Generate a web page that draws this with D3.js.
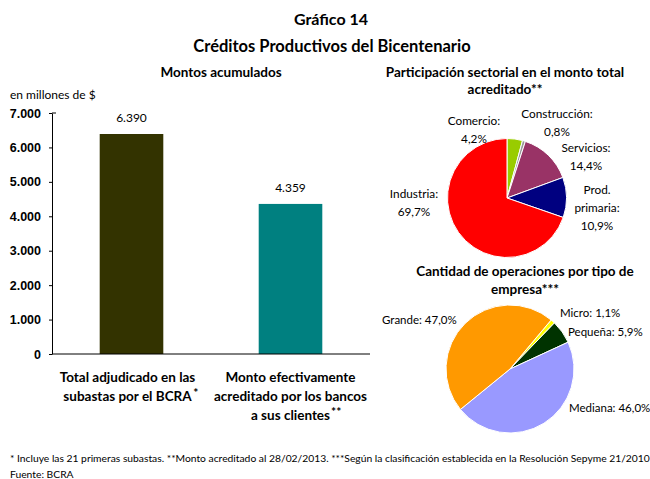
<!DOCTYPE html>
<html>
<head>
<meta charset="utf-8">
<script src="https://d3js.org/d3.v7.min.js"></script>
<style>
  body { margin: 0; background: #fff; }
  svg { font-family: Lato, "Open Sans", sans-serif; }
</style>
</head>
<body>
<div id="grafico"></div>
<script>
// datos
var barCategories = ["Total adjudicado en las subastas por el BCRA", "Monto efectivamente acreditado por los bancos a sus clientes"];
var barValues = [6390, 4359];
var barLabels = ["6.390", "4.359"];
var barColors = ["#333300", "#008080"];
var yTicks = [0, 1000, 2000, 3000, 4000, 5000, 6000, 7000];
var yTickLabels = ["0", "1.000", "2.000", "3.000", "4.000", "5.000", "6.000", "7.000"];

var sectorNames = ["Comercio", "Construcción", "Servicios", "Prod. primaria", "Industria"];
var sectorValues = [4.2, 0.8, 14.4, 10.9, 69.7];
var sectorColors = ["#99cc00", "#999999", "#993366", "#000080", "#ff0000"];

var empresaNames = ["Micro", "Pequeña", "Mediana", "Grande"];
var empresaValues = [1.1, 5.9, 46.0, 47.0];
var empresaColors = ["#ffff00", "#003300", "#9999ff", "#ff9900"];

var width = 650, height = 479;

var svg = d3.select("#grafico")
  .append("svg")
    .attr("width", width)
    .attr("height", height);

// titulos
svg.append("text")
  .attr("x", 331).attr("y", 25)
  .attr("text-anchor", "middle")
  .style("font-weight", "bold").style("font-size", "16px")
  .text("Gráfico 14");
svg.append("text")
  .attr("x", 332).attr("y", 52)
  .attr("text-anchor", "middle")
  .style("font-weight", "bold").style("font-size", "16.5px")
  .text("Créditos Productivos del Bicentenario");

svg.append("text")
  .attr("x", 221).attr("y", 77)
  .attr("text-anchor", "middle")
  .style("font-weight", "bold").style("font-size", "13.5px")
  .text("Montos acumulados");
svg.append("text")
  .attr("x", 10).attr("y", 99)
  .style("font-size", "12px")
  .text("en millones de $");

// barras
var barMargin = {top: 113, left: 52},
    barWidth = 318,
    barHeight = 241;

var g = svg.append("g")
  .attr("transform", "translate(" + barMargin.left + "," + barMargin.top + ")");

var y = d3.scaleLinear()
  .domain([0, 7000])
  .range([barHeight, 0]);

var x = d3.scaleBand()
  .domain(barCategories)
  .range([0, barWidth])
  .paddingInner(0.6)
  .paddingOuter(0.3);

g.append("g")
  .call(d3.axisLeft(y).tickValues(yTicks).tickSize(3).tickSizeOuter(0).tickPadding(8)
    .tickFormat(function(d, i) { return yTickLabels[i]; }))
  .call(function(a) {
    a.selectAll("text").style("font-size", "12.5px").style("font-weight", "bold").attr("fill", "#000");
    a.selectAll("line").attr("stroke", "#000");
    a.select(".domain").attr("stroke", "#000");
  });

g.append("line")
  .attr("x1", 0).attr("x2", 4)
  .attr("y1", y(7000)).attr("y2", y(7000))
  .attr("stroke", "#000");

g.selectAll("rect.bar")
  .data(barValues)
  .enter()
  .append("rect")
    .attr("class", "bar")
    .attr("x", function(d, i) { return x(barCategories[i]); })
    .attr("y", function(d) { return y(d); })
    .attr("width", x.bandwidth())
    .attr("height", function(d) { return barHeight - y(d); })
    .attr("fill", function(d, i) { return barColors[i]; });

g.append("line")
  .attr("x1", 0).attr("x2", barWidth)
  .attr("y1", barHeight).attr("y2", barHeight)
  .attr("stroke", "#000");

g.selectAll("text.val")
  .data(barValues)
  .enter()
  .append("text")
    .attr("class", "val")
    .attr("x", function(d, i) { return x(barCategories[i]) + x.bandwidth() / 2; })
    .attr("y", function(d) { return y(d) - 12; })
    .attr("text-anchor", "middle")
    .style("font-size", "12px")
    .text(function(d, i) { return barLabels[i]; });

// etiquetas del eje x, en lineas
var xLines = [
  ["Total adjudicado en las", "subastas por el BCRA"],
  ["Monto efectivamente", "acreditado por los bancos", "a sus clientes"]
];
var xSup = ["*", "**"];

xLines.forEach(function(lines, i) {
  var cx = x(barCategories[i]) + x.bandwidth() / 2 - (i == 0 ? 4 : 0);
  var t = g.append("text")
    .attr("text-anchor", "middle")
    .style("font-size", "13.5px")
    .style("font-weight", "bold");
  lines.forEach(function(l, j) {
    t.append("tspan")
      .attr("x", cx)
      .attr("y", barHeight + 28 + j * 19)
      .text(l);
  });
  var last = t.selectAll("tspan").nodes()[lines.length - 1];
  var bb = last.getBBox();
  g.append("text")
    .attr("x", bb.x + bb.width + 1)
    .attr("y", bb.y + 9)
    .style("font-size", "12px")
    .style("font-weight", "bold")
    .text(xSup[i]);
});

// tortas
function drawPie(values, colors, cx, cy, r, start) {
  var pie = d3.pie().sort(null).startAngle(start).endAngle(start + 2 * Math.PI);
  var arc = d3.arc().innerRadius(0).outerRadius(r);
  svg.append("g")
    .attr("transform", "translate(" + cx + "," + cy + ")")
    .selectAll("path")
    .data(pie(values))
    .enter()
    .append("path")
      .attr("d", arc)
      .attr("fill", function(d, i) { return colors[i]; })
      .attr("stroke", "#fff")
      .attr("stroke-width", 1);
}

function fmt(v) { return d3.format(".1f")(v).replace(".", ",") + "%"; }

function multiText(lines, x0, y0, anchor) {
  var t = svg.append("text")
    .attr("text-anchor", anchor)
    .style("font-size", "11.8px");
  lines.forEach(function(l, j) {
    t.append("tspan").attr("x", x0).attr("y", y0 + j * 18).text(l);
  });
}

svg.append("text")
  .attr("x", 505).attr("y", 77)
  .attr("text-anchor", "middle")
  .style("font-weight", "bold").style("font-size", "13.5px")
  .text("Participación sectorial en el monto total");
svg.append("text")
  .attr("x", 505).attr("y", 94)
  .attr("text-anchor", "middle")
  .style("font-weight", "bold").style("font-size", "13.5px")
  .text("acreditado**");

drawPie(sectorValues, sectorColors, 507, 198, 59.5, 0);

multiText(["Comercio:", fmt(sectorValues[0])], 474, 125, "middle");
multiText(["Construcción:", fmt(sectorValues[1])], 557, 118, "middle");
multiText(["Servicios:", fmt(sectorValues[2])], 586, 152, "middle");
multiText(["Prod.", "primaria:", fmt(sectorValues[3])], 597, 194, "middle");
multiText(["Industria:", fmt(sectorValues[4])], 414, 198, "middle");

svg.append("text")
  .attr("x", 525).attr("y", 276)
  .attr("text-anchor", "middle")
  .style("font-weight", "bold").style("font-size", "13.5px")
  .text("Cantidad de operaciones por tipo de");
svg.append("text")
  .attr("x", 525).attr("y", 294)
  .attr("text-anchor", "middle")
  .style("font-weight", "bold").style("font-size", "13.5px")
  .text("empresa***");

drawPie(empresaValues, empresaColors, 510, 369, 64, 40 * Math.PI / 180);

var empSize = "11.5px";
svg.append("text").attr("x", 382).attr("y", 324).style("font-size", empSize)
  .text(empresaNames[3] + ": " + fmt(empresaValues[3]));
svg.append("text").attr("x", 560).attr("y", 317).style("font-size", empSize)
  .text(empresaNames[0] + ": " + fmt(empresaValues[0]));
svg.append("text").attr("x", 568).attr("y", 336).style("font-size", empSize)
  .text(empresaNames[1] + ": " + fmt(empresaValues[1]));
svg.append("text").attr("x", 569).attr("y", 412).style("font-size", empSize)
  .text(empresaNames[2] + ": " + fmt(empresaValues[2]));

// notas
svg.append("text")
  .attr("x", 10).attr("y", 462)
  .style("font-size", "10.3px")
  .text("* Incluye las 21 primeras subastas. **Monto acreditado al 28/02/2013. ***Según la clasificación establecida en la Resolución Sepyme 21/2010");
svg.append("text")
  .attr("x", 10).attr("y", 478)
  .style("font-size", "10.3px")
  .text("Fuente: BCRA");
</script>
</body>
</html>
